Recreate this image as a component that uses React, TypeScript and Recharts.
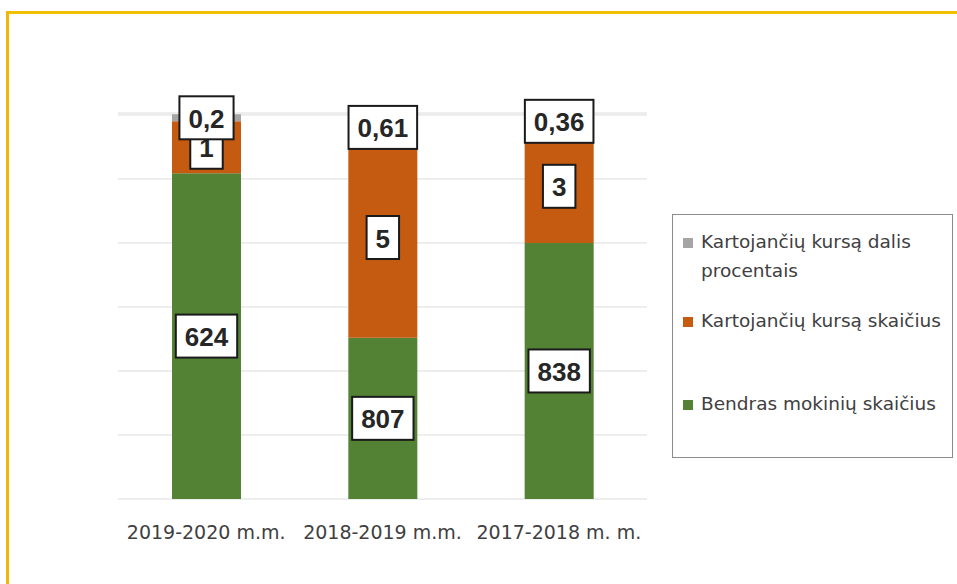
import React from 'react';
import { BarChart, Bar, XAxis, YAxis, CartesianGrid, LabelList, Legend } from 'recharts';

const categories = ['2019-2020 m.m.', '2018-2019 m.m.', '2017-2018 m. m.'];
// drawn heights of each stacked segment (in the chart's own units)
const greenHeights = [5.09, 2.52, 4.0];
const orangeHeights = [0.81, 3.13, 1.77];
const grayHeights = [0.11, 0.31, 0.26];
// value labels shown in the boxes
const greenLabels = ['624', '807', '838'];
const orangeLabels = ['1', '5', '3'];
const grayLabels = ['0,2', '0,61', '0,36'];
const yTicks = [0, 1, 2, 3, 4, 5, 6];

const seriesNames = {
  gray: 'Kartojančių kursą dalis procentais',
  orange: 'Kartojančių kursą skaičius',
  green: 'Bendras mokinių skaičius',
};

const data = categories.map((c, i) => ({
  name: c,
  green: greenHeights[i],
  orange: orangeHeights[i],
  gray: grayHeights[i],
  gL: greenLabels[i],
  oL: orangeLabels[i],
  grL: grayLabels[i],
}));

const COLORS = { green: '#548235', orange: '#C55A11', gray: '#A5A5A5' };

const BoxLabel = (props: any) => {
  const { x, y, width, height, value } = props;
  const cx = Number(x) + Number(width) / 2;
  const cy = Number(y) + Number(height) / 2;
  const s = String(value);
  const fs = 26;
  let tw = 0;
  for (const ch of s) tw += (ch === ',' ? 0.278 : 0.556) * fs;
  const w = tw + 18;
  const h = 43;
  return (
    <g>
      <rect x={cx - w / 2} y={cy - h / 2} width={w} height={h} fill="#ffffff" stroke="#1a1a1a" strokeWidth={2} />
      <text
        x={cx}
        y={cy + 1}
        textAnchor="middle"
        dominantBaseline="central"
        fontFamily="'Liberation Sans', Arial, sans-serif"
        fontWeight="bold"
        fontSize={fs}
        fill="#262626"
      >
        {s}
      </text>
    </g>
  );
};

const LegendBox = () => {
  const items = [
    { key: 'gray', lines: ['Kartojančių kursą dalis', 'procentais'], top: 18 },
    { key: 'orange', lines: ['Kartojančių kursą skaičius'], top: 97 },
    { key: 'green', lines: ['Bendras mokinių skaičius'], top: 180 },
  ];
  return (
    <div
      style={{
        position: 'relative',
        width: 281,
        height: 244,
        border: '1.5px solid #8c8c8c',
        boxSizing: 'border-box',
        background: '#fff',
        fontFamily: "'DejaVu Sans', sans-serif",
        fontSize: 18.5,
        color: '#404040',
      }}
    >
      {items.map((it) => (
        <div key={it.key} style={{ position: 'absolute', left: 10, top: it.top }}>
          <div
            style={{
              position: 'absolute',
              left: 0,
              top: 5,
              width: 10,
              height: 10,
              background: (COLORS as any)[it.key],
            }}
          />
          <div style={{ position: 'absolute', left: 18, top: -6, whiteSpace: 'nowrap', lineHeight: '29px' }}>
            {it.lines.map((l) => (
              <div key={l}>{l}</div>
            ))}
          </div>
        </div>
      ))}
    </div>
  );
};

export default function App() {
  return (
    <div
      style={{
        position: 'absolute',
        left: 0,
        top: 0,
        width: 957,
        height: 584,
        background: '#ffffff',
        overflow: 'hidden',
      }}
    >
      <div style={{ position: 'absolute', left: 6, top: 11, width: 951, height: 3, background: '#F2C000' }} />
      <div style={{ position: 'absolute', left: 6, top: 11, width: 3, height: 573, background: '#F0B800' }} />
      <div style={{ position: 'absolute', left: 0, top: 0 }}>
        <BarChart
          width={957}
          height={584}
          data={data}
          margin={{ top: 113, left: 118, right: 310, bottom: 55 }}
          barCategoryGap="30%"
        >
          <CartesianGrid vertical={false} stroke="#dcdcdc" strokeWidth={1} />
          <YAxis hide domain={[0, 6]} ticks={yTicks} />
          <XAxis
            dataKey="name"
            axisLine={false}
            tickLine={false}
            tickMargin={21}
            interval={0}
            tick={{ fontSize: 19, fill: '#404040', fontFamily: "'DejaVu Sans', sans-serif" }}
          />
          <Legend
            layout="vertical"
            align="center"
            verticalAlign="middle"
            wrapperStyle={{ position: 'absolute', left: 672, top: 214, width: 281, height: 244 }}
            content={() => <LegendBox />}
          />
          <Bar dataKey="green" name={seriesNames.green} stackId="a" fill={COLORS.green} barSize={69} isAnimationActive={false}>
            <LabelList dataKey="gL" content={BoxLabel} />
          </Bar>
          <Bar dataKey="orange" name={seriesNames.orange} stackId="a" fill={COLORS.orange} barSize={69} isAnimationActive={false}>
            <LabelList dataKey="oL" content={BoxLabel} />
          </Bar>
          <Bar dataKey="gray" name={seriesNames.gray} stackId="a" fill={COLORS.gray} barSize={69} isAnimationActive={false}>
            <LabelList dataKey="grL" content={BoxLabel} />
          </Bar>
        </BarChart>
      </div>
    </div>
  );
}
